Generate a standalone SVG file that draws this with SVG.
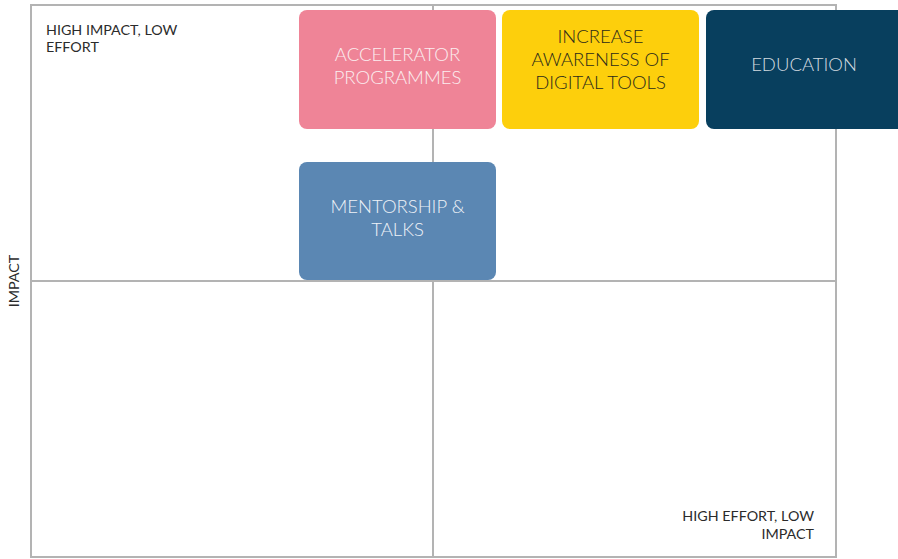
<svg xmlns="http://www.w3.org/2000/svg" width="898" height="559" viewBox="0 0 898 559">
<style>
.grid{fill:none;stroke:#b3b3b3;stroke-width:2}
.lbl{font-family:Lato,"Open Sans",sans-serif;font-size:14.3px;fill:#2b2b2b}
.bt{font-family:Lato,"Open Sans",sans-serif;font-size:18.5px;font-weight:300;text-anchor:middle}
</style>
<rect width="898" height="559" fill="#ffffff"/>
<g id="connectors">
<rect class="grid" x="31" y="5" width="805" height="552"/>
<line class="grid" x1="433" y1="5" x2="433" y2="557"/>
<line class="grid" x1="31" y1="281" x2="836" y2="281"/>
</g>
<g id="label-tl">
<text class="lbl" x="46" y="35">HIGH IMPACT, LOW</text>
<text class="lbl" x="46" y="52">EFFORT</text>
</g>
<g id="label-br">
<text class="lbl" x="814" y="521" text-anchor="end">HIGH EFFORT, LOW</text>
<text class="lbl" x="814" y="539" text-anchor="end">IMPACT</text>
</g>
<g id="label-impact">
<text class="lbl" x="0" y="0" text-anchor="middle" transform="translate(19,281) rotate(-90)">IMPACT</text>
</g>
<g id="accelerator">
<rect x="299" y="10" width="197" height="119" rx="8" fill="#ef8497"/>
<text class="bt" x="397.5" y="61" fill="#fbeef0">ACCELERATOR</text>
<text class="bt" x="397.5" y="84" fill="#fbeef0">PROGRAMMES</text>
</g>
<g id="awareness">
<rect x="502" y="10" width="197" height="119" rx="8" fill="#fdcf0c"/>
<text class="bt" x="600.5" y="43" fill="#2a2a1a">INCREASE</text>
<text class="bt" x="600.5" y="66" fill="#2a2a1a">AWARENESS OF</text>
<text class="bt" x="600.5" y="89" fill="#2a2a1a">DIGITAL TOOLS</text>
</g>
<g id="education">
<rect x="706" y="10" width="200" height="119" rx="8" fill="#083f5e"/>
<text class="bt" x="804" y="71" fill="#d3dbe0">EDUCATION</text>
</g>
<g id="mentorship">
<rect x="299" y="162" width="197" height="118" rx="8" fill="#5b87b3"/>
<text class="bt" x="397.5" y="213" fill="#eef2f7">MENTORSHIP &amp;</text>
<text class="bt" x="397.5" y="236" fill="#eef2f7">TALKS</text>
</g>
</svg>
